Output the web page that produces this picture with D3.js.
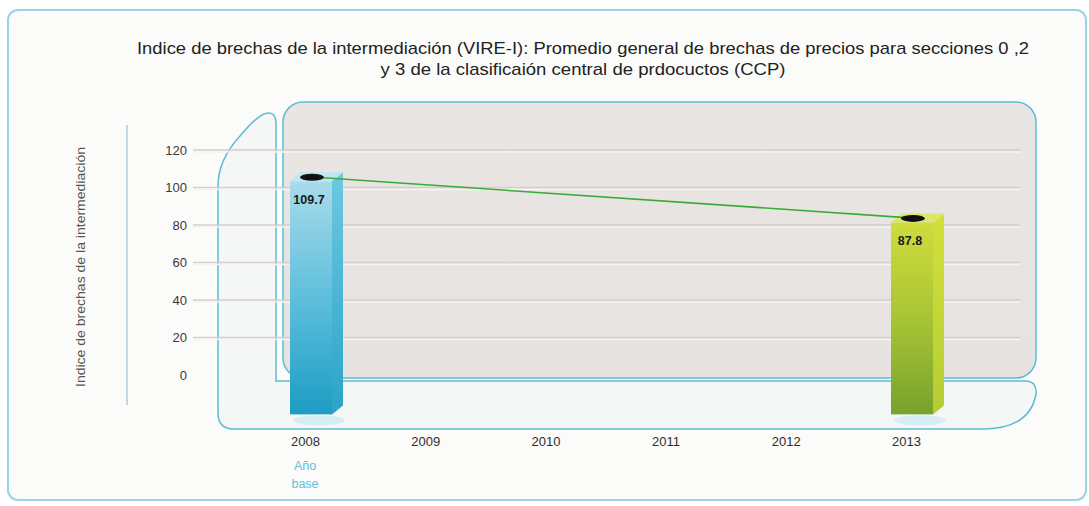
<!DOCTYPE html>
<html>
<head>
<meta charset="utf-8">
<script src="https://cdn.jsdelivr.net/npm/d3@7"></script>
<style>
  body { margin: 0; background: #ffffff; }
  svg { display: block; font-family: 'Liberation Sans', Arial, sans-serif; }
</style>
</head>
<body>
<svg id="chart" width="1089" height="506"></svg>
<script>
// data
const years = [2008, 2009, 2010, 2011, 2012, 2013];
const barYears = [2008, 2013];
const barValues = [109.7, 87.8];
const barLabels = ['109.7', '87.8'];
const yTicks = [0, 20, 40, 60, 80, 100, 120];
const titleLines = [
    'Indice de brechas de la intermediación (VIRE-I): Promedio general de brechas de precios para secciones 0 ,2',
    'y 3 de la clasificaión central de prdocuctos (CCP)'
];
const titleWidths = [892, 405];
const yTitle = 'Indice de brechas de la intermediación';
const baseLabel = ['Año', 'base'];

const svg = d3.select('#chart');

const x = d3.scalePoint().domain(years).range([305, 906]);
const y = d3.scaleLinear().domain([0, 120]).range([375, 150]);
const barFloor = -21; // bars sink below zero into the 3d floor

const defs = svg.append('defs');

function linGrad(id, stops, x2, y2) {
    const g = defs.append('linearGradient').attr('id', id)
        .attr('x1', 0).attr('y1', 0).attr('x2', x2).attr('y2', y2);
    stops.forEach(s => g.append('stop').attr('offset', s[0]).attr('stop-color', s[1]));
}
linGrad('panelGrad', [[0, '#e9e5e2'], [1, '#e7e3e0']], 0, 1);
linGrad('blueFront', [[0, '#a9dbeb'], [0.5, '#5ebfdc'], [1, '#1d9cc4']], 0, 1);
linGrad('blueSide', [[0, '#6ec8e2'], [1, '#2aa4c8']], 0, 1);
linGrad('greenFront', [[0, '#cfdc3c'], [0.5, '#a8c435'], [1, '#78a22c']], 0, 1);
linGrad('greenSide', [[0, '#d3e03a'], [1, '#b4cd33']], 0, 1);

// outer card
svg.append('rect')
    .attr('x', 8).attr('y', 10).attr('width', 1078).attr('height', 490)
    .attr('rx', 10)
    .attr('fill', '#fbfbf9')
    .attr('stroke', '#9ad3e2').attr('stroke-width', 2);

// title
svg.append('g').selectAll('text').data(titleLines).join('text')
    .attr('x', 583).attr('y', (d, i) => 54 + i * 21)
    .attr('text-anchor', 'middle')
    .attr('font-size', 17)
    .attr('textLength', (d, i) => titleWidths[i])
    .attr('lengthAdjust', 'spacingAndGlyphs')
    .attr('fill', '#222')
    .text(d => d);

// left vertical rule of the axis
svg.append('line')
    .attr('x1', 127).attr('x2', 127).attr('y1', 125).attr('y2', 405)
    .attr('stroke', '#c4d6ea').attr('stroke-width', 2);

// y title
svg.append('text')
    .attr('transform', 'translate(85,' + 267 + ') rotate(-90)')
    .attr('text-anchor', 'middle')
    .attr('font-size', 13.5)
    .attr('textLength', 240)
    .attr('lengthAdjust', 'spacingAndGlyphs')
    .attr('fill', '#555')
    .text(yTitle);

// floor and left wall
svg.append('path')
    .attr('d', 'M276,381 H1025 Q1037,381 1036,394 Q1030,428 985,429 H234 Q218,429 218,413 V186 Q218,160 240,136 Q255,118 264,114 Q276,110 276,124 Z')
    .attr('fill', '#f5f6f6')
    .attr('stroke', '#5cbcd6').attr('stroke-width', 1.5);

// back panel
svg.append('rect')
    .attr('x', 283).attr('y', 102).attr('width', 753).attr('height', 276)
    .attr('rx', 20)
    .attr('fill', 'url(#panelGrad)')
    .attr('stroke', '#5cbcd6').attr('stroke-width', 1.5);

// gridlines
const grid = svg.append('g');
grid.selectAll('line.g').data(yTicks.slice(1)).join('line')
    .attr('class', 'g')
    .attr('x1', 193).attr('x2', 1020)
    .attr('y1', d => y(d)).attr('y2', d => y(d))
    .attr('stroke', '#d5ceca').attr('stroke-width', 1.5);
grid.selectAll('line.h').data(yTicks.slice(1)).join('line')
    .attr('class', 'h')
    .attr('x1', 193).attr('x2', 1020)
    .attr('y1', d => y(d) + 2).attr('y2', d => y(d) + 2)
    .attr('stroke', '#f6f4f2').attr('stroke-width', 1.5);

// y axis tick labels
const yAxis = svg.append('g')
    .attr('transform', 'translate(190,0)')
    .call(d3.axisLeft(y).tickValues(yTicks).tickSize(0).tickPadding(3));
yAxis.select('.domain').remove();
yAxis.selectAll('text').attr('font-size', 13).attr('fill', '#3a3a3a')
    .attr('font-family', "'Liberation Sans', Arial, sans-serif");

// x axis labels
const xAxis = svg.append('g')
    .attr('transform', 'translate(0,431)')
    .call(d3.axisBottom(x).tickSize(0).tickPadding(6).tickFormat(d3.format('d')));
xAxis.select('.domain').remove();
xAxis.selectAll('text').attr('font-size', 13).attr('fill', '#2e2e2e')
    .attr('font-family', "'Liberation Sans', Arial, sans-serif");

// base year note
svg.append('g').selectAll('text').data(baseLabel).join('text')
    .attr('x', x(2008)).attr('y', (d, i) => 470 + i * 18)
    .attr('text-anchor', 'middle')
    .attr('font-size', 12.5)
    .attr('fill', '#5bc4e0')
    .text(d => d);

// 3d bars
const bars = barYears.map((yr, i) => ({ year: yr, value: barValues[i], label: barLabels[i], i }));
const bw = 42, dx = 11, dy = 9;
const fronts = ['url(#blueFront)', 'url(#greenFront)'];
const sides = ['url(#blueSide)', 'url(#greenSide)'];
const tops = ['#bfe6f2', '#dce66a'];

const barG = svg.append('g').selectAll('g').data(bars).join('g');

barG.append('ellipse')
    .attr('cx', d => x(d.year) + 14).attr('cy', y(barFloor) + 6)
    .attr('rx', 26).attr('ry', 5)
    .attr('fill', '#bfe7f2').attr('opacity', 0.6);

barG.append('rect')
    .attr('x', d => x(d.year) - 15)
    .attr('y', d => y(d.value) + 12)
    .attr('width', bw)
    .attr('height', d => y(barFloor) - y(d.value) - 12)
    .attr('fill', d => fronts[d.i]);

barG.append('path')
    .attr('d', d => {
        const l = x(d.year) - 15 + bw, t = y(d.value) + 12, b = y(barFloor);
        return `M${l},${t} L${l + dx},${t - dy} L${l + dx},${b - dy} L${l},${b} Z`;
    })
    .attr('fill', d => sides[d.i]);

barG.append('path')
    .attr('d', d => {
        const l = x(d.year) - 15, t = y(d.value) + 12;
        return `M${l},${t} L${l + bw},${t} L${l + bw + dx},${t - dy} L${l + dx},${t - dy} Z`;
    })
    .attr('fill', d => tops[d.i]);

// trend line between tops
const line = d3.line()
    .x(d => x(d.year) + 11)
    .y(d => y(d.value) + 8);
svg.append('path')
    .datum(bars)
    .attr('d', line)
    .attr('fill', 'none')
    .attr('stroke', '#3aaa3a').attr('stroke-width', 1.6);

// markers on the tops
svg.append('g').selectAll('ellipse').data(bars).join('ellipse')
    .attr('cx', d => x(d.year) + 7).attr('cy', d => y(d.value) + 8)
    .attr('rx', 12).attr('ry', 3.5)
    .attr('fill', '#111');

// value labels
svg.append('g').selectAll('text').data(bars).join('text')
    .attr('x', d => x(d.year) + 4).attr('y', d => y(d.value) + 35)
    .attr('text-anchor', 'middle')
    .attr('font-size', 12.5)
    .attr('font-weight', 'bold')
    .attr('fill', '#1a1a1a')
    .text(d => d.label);
</script>
</body>
</html>
